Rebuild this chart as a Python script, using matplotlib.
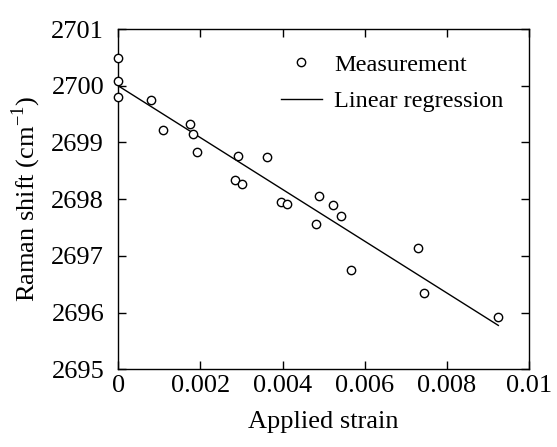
import matplotlib
matplotlib.use("Agg")
import matplotlib.pyplot as plt
import numpy as np

# measured points (strain, Raman shift in cm^-1)
strain = [0.0, 0.0, 0.0, 0.00081, 0.00109, 0.00175, 0.00183, 0.00191,
          0.00284, 0.00291, 0.00301, 0.00363, 0.00397, 0.00411, 0.00481,
          0.00488, 0.00522, 0.00542, 0.00567, 0.00729, 0.00745, 0.00925]
shift = [2700.49, 2700.08, 2699.81, 2699.74, 2699.22, 2699.32, 2699.15,
         2698.84, 2698.34, 2698.76, 2698.27, 2698.74, 2697.95, 2697.91,
         2697.57, 2698.06, 2697.90, 2697.71, 2696.75, 2697.13, 2696.35,
         2695.92]

# regression line
fit_intercept = 2700.0
fit_slope = -457.0
fit_range = [0.0, 0.00925]

xticks = [0, 0.002, 0.004, 0.006, 0.008, 0.01]
xtick_labels = ["0", "0.002", "0.004", "0.006", "0.008", "0.01"]
yticks = [2695, 2696, 2697, 2698, 2699, 2700, 2701]

plt.rcParams["font.family"] = ["Liberation Serif", "DejaVu Serif"]
plt.rcParams["mathtext.fontset"] = "custom"
plt.rcParams["mathtext.rm"] = "Liberation Serif"

fig = plt.figure(figsize=(5.57, 4.47), dpi=100)
ax = fig.add_axes([0.212, 0.174, 0.738, 0.761])

ax.plot(strain, shift, linestyle="none", marker="o", markersize=6,
        markerfacecolor="white", markeredgecolor="black",
        markeredgewidth=1.0, label="Measurement", zorder=3, clip_on=False)
xfit = np.array(fit_range)
ax.plot(xfit, fit_intercept + fit_slope * xfit, color="black", lw=1.0,
        label="Linear regression")

ax.set_xlim(0, 0.01)
ax.set_ylim(2695, 2701)
ax.set_xticks(xticks)
ax.set_xticklabels(xtick_labels)
ax.set_yticks(yticks)
ax.tick_params(direction="in", length=6, width=1, top=True, right=True,
               labelsize=19)
ax.tick_params(axis="x", pad=4)
ax.tick_params(axis="y", pad=10)
for s in ax.spines.values():
    s.set_linewidth(1.0)

ax.set_xlabel("Applied strain", fontsize=19, labelpad=10)
ax.set_ylabel(r"Raman shift (cm$^{\mathrm{-1}}$)", fontsize=19, labelpad=6)

ax.legend(loc="upper right", frameon=False, fontsize=17.5,
          bbox_to_anchor=(0.985, 0.985), handlelength=1.7, handletextpad=0.5,
          labelspacing=0.6, borderaxespad=0.4)

fig.savefig("out.png", dpi=100)
